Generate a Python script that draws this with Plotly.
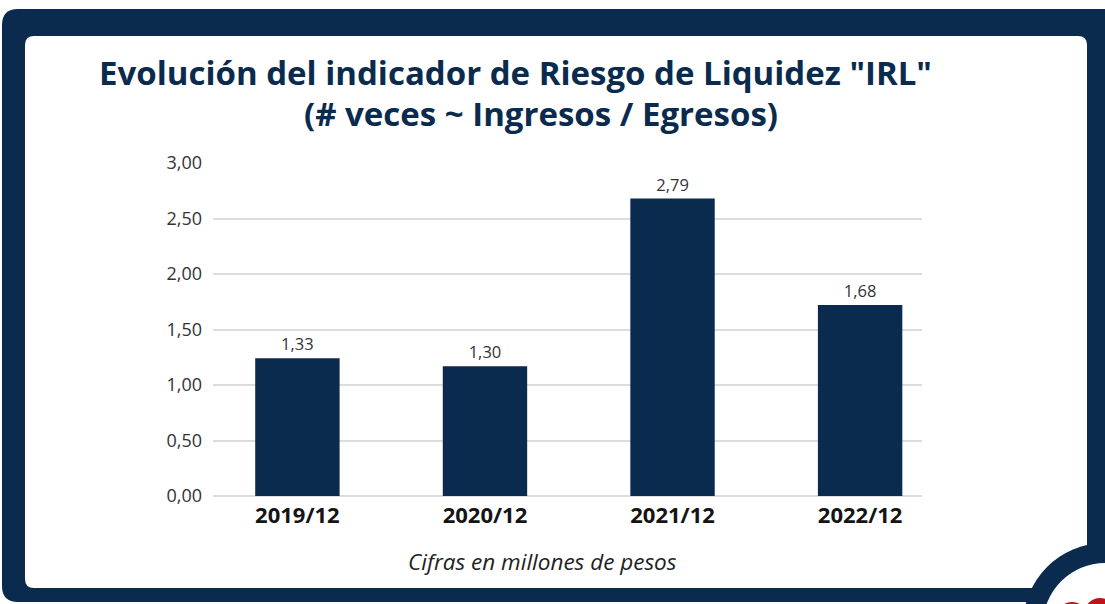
import plotly.graph_objects as go

# data
periods = ['2019/12', '2020/12', '2021/12', '2022/12']
bar_heights = [1.24, 1.17, 2.68, 1.72]          # heights as drawn
bar_labels = ['1,33', '1,30', '2,79', '1,68']     # values printed above the bars
y_ticks = [0, 0.5, 1.0, 1.5, 2.0, 2.5, 3.0]

NAVY = '#0a2b4e'
W, H = 1105, 604
L, R, T, B = 213, 183, 163, 108
PW, PH = W - L - R, H - T - B


def px(x):
    return (x - L) / PW


def py(y):
    return (H - B - y) / PH


def rounded_rect(x0, y0, x1, y1, r):
    # path in paper coords from pixel box
    pts = [
        f'M {px(x0 + r)},{py(y0)}',
        f'L {px(x1 - r)},{py(y0)}',
        f'Q {px(x1)},{py(y0)} {px(x1)},{py(y0 + r)}',
        f'L {px(x1)},{py(y1 - r)}',
        f'Q {px(x1)},{py(y1)} {px(x1 - r)},{py(y1)}',
        f'L {px(x0 + r)},{py(y1)}',
        f'Q {px(x0)},{py(y1)} {px(x0)},{py(y1 - r)}',
        f'L {px(x0)},{py(y0 + r)}',
        f'Q {px(x0)},{py(y0)} {px(x0 + r)},{py(y0)}',
        'Z',
    ]
    return ' '.join(pts)


def circle(cx, cy, r, color):
    return dict(type='circle', xref='paper', yref='paper',
                x0=px(cx - r), x1=px(cx + r), y0=py(cy + r), y1=py(cy - r),
                fillcolor=color, line=dict(width=0), layer='below')


def label(text, x, y, size, color, weight='normal'):
    return dict(text=text, xref='paper', yref='paper', x=px(x), y=py(y),
                xanchor='center', yanchor='middle', showarrow=False,
                font=dict(family='Open Sans', size=size, color=color, weight=weight))


fig = go.Figure()
fig.add_trace(go.Bar(
    x=periods, y=bar_heights, text=bar_labels, textposition='outside',
    textfont=dict(family='Open Sans', size=16.5, color='#333333'),
    marker=dict(color=NAVY, line=dict(width=0)), width=0.45,
    cliponaxis=False, hoverinfo='skip',
))

shapes = [
    dict(type='path', xref='paper', yref='paper', path=rounded_rect(2, 9, 1125, 602, 16),
         fillcolor=NAVY, line=dict(width=0), layer='below'),
    dict(type='path', xref='paper', yref='paper', path=rounded_rect(25, 36, 1087, 588, 9),
         fillcolor='white', line=dict(width=0), layer='below'),
    circle(1105, 625, 82, NAVY),
    circle(1105, 625, 62, 'white'),
    circle(1072, 618, 16, '#c0121a'),
    circle(1100, 614, 16, '#c0121a'),
]

annotations = [
    label('Evolución del indicador de Riesgo de Liquidez "IRL"', 515, 72, 33, NAVY, 'bold'),
    label('(# veces ~ Ingresos / Egresos)', 541, 113, 33, NAVY, 'bold'),
    label('<i>Cifras en millones de pesos</i>', 542, 561, 22.5, '#222222'),
]

fig.update_layout(
    width=W, height=H,
    margin=dict(l=L, r=R, t=T, b=B),
    paper_bgcolor='white', plot_bgcolor='rgba(0,0,0,0)',
    separators=',.',
    showlegend=False,
    shapes=shapes,
    annotations=annotations,
    bargap=0.5,
)
fig.update_xaxes(
    type='category', range=[-0.45, 3.33], showgrid=False, showline=False, ticks='',
    tickfont=dict(family='Open Sans', size=22, color='#141414', weight='bold'),
    ticklabelstandoff=4,
)
fig.update_yaxes(
    range=[0, 3.0], tickvals=y_ticks, tickformat='.2f',
    showgrid=True, gridcolor='#dcdcdc', gridwidth=1.5,
    zeroline=True, zerolinecolor='#dcdcdc', zerolinewidth=1.5,
    showline=False, ticks='',
    tickfont=dict(family='Open Sans', size=18, color='#333333'),
    ticklabelstandoff=10,
)

fig.write_html('out.html', config={'displayModeBar': False},
               post_script="document.body.style.margin='0';")
